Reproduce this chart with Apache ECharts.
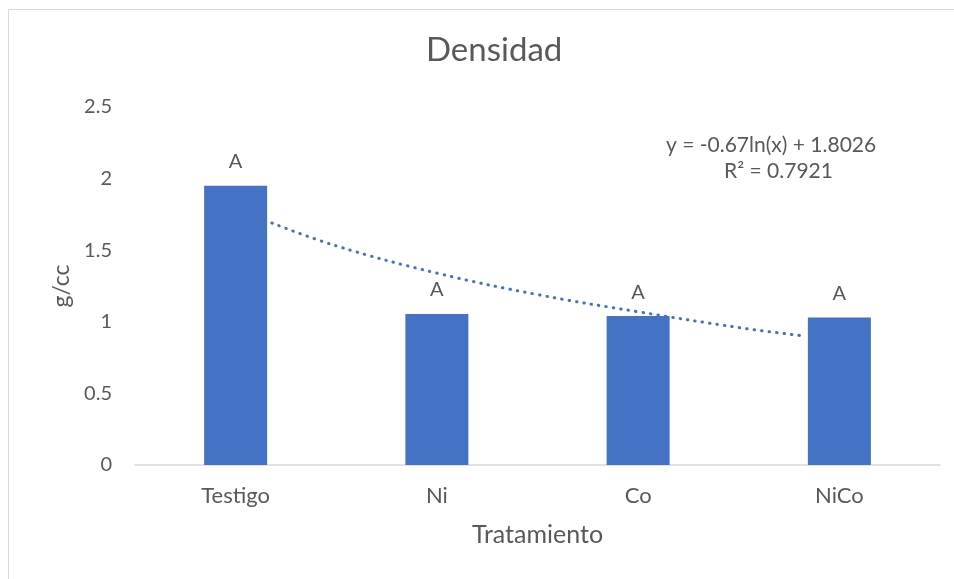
<!DOCTYPE html>
<html>
<head>
<meta charset="utf-8">
<title>Densidad</title>
<script src="https://cdn.jsdelivr.net/npm/echarts@6/dist/echarts.min.js"></script>
<style>
  html, body { margin: 0; padding: 0; background: #fff; }
  #chart { width: 954px; height: 579px; }
</style>
</head>
<body>
<div id="chart"></div>
<script>
// data
const categories = ['Testigo', 'Ni', 'Co', 'NiCo'];
const densidad = [1.95, 1.055, 1.04, 1.03];
const letras = ['A', 'A', 'A', 'A'];
// trendline (log fit): [category position, g/cc]
const trendX = [1.18, 1.5, 2, 2.5, 3, 3.5, 3.83];
const trendY = [1.69, 1.53, 1.34, 1.19, 1.07, 0.96, 0.90];
const yTicks = [0, 0.5, 1, 1.5, 2, 2.5];

const textColor = '#595959';
const barColor = '#4472C4';
const font = 'Lato, "Open Sans", sans-serif';

const chart = echarts.init(document.getElementById('chart'));

chart.setOption({
  backgroundColor: '#fff',
  animation: false,
  textStyle: { fontFamily: font },
  title: {
    text: 'Densidad',
    left: 421,
    top: 29,
    textStyle: { fontSize: 33, fontWeight: 'normal', color: textColor, fontFamily: font },
  },
  graphic: [
    {
      type: 'rect',
      shape: { x: 8.5, y: 9.5, width: 1000, height: 1000 },
      style: { fill: 'none', stroke: '#D9D9D9', lineWidth: 1 },
      silent: true,
    },
    {
      type: 'text',
      left: 666,
      top: 135,
      style: { text: 'y = -0.67ln(x) + 1.8026', fill: textColor, font: '21px ' + font },
    },
    {
      type: 'text',
      left: 724,
      top: 161,
      style: { text: 'R² = 0.7921', fill: textColor, font: '21px ' + font },
    },
  ],
  grid: { left: 135, right: 14, top: 107, bottom: 114 },
  xAxis: [
    {
      type: 'category',
      data: categories,
      name: 'Tratamiento',
      nameLocation: 'middle',
      nameGap: 57,
      nameTextStyle: { fontSize: 25, color: textColor },
      axisLine: { lineStyle: { color: '#D9D9D9', width: 1.5 } },
      axisTick: { show: false },
      axisLabel: { fontSize: 22, color: textColor, margin: 20 },
    },
    {
      type: 'value',
      min: 0.5,
      max: 4.5,
      show: false,
    },
  ],
  yAxis: {
    type: 'value',
    min: 0,
    max: 2.5,
    interval: 0.5,
    name: 'g/cc',
    nameLocation: 'middle',
    nameGap: 61,
    nameTextStyle: { fontSize: 23, color: textColor },
    axisLine: { show: false },
    axisTick: { show: false },
    splitLine: { show: false },
    axisLabel: {
      fontSize: 20,
      color: textColor,
      margin: 23,
      formatter: v => (yTicks.includes(v) ? String(v) : ''),
    },
  },
  series: [
    {
      type: 'bar',
      data: densidad,
      barWidth: 63,
      itemStyle: { color: barColor },
      label: {
        show: true,
        position: 'top',
        distance: 14,
        fontSize: 20,
        color: textColor,
        formatter: p => letras[p.dataIndex],
      },
      z: 2,
    },
    {
      type: 'line',
      xAxisIndex: 1,
      data: trendX.map((x, i) => [x, trendY[i]]),
      smooth: 0.4,
      showSymbol: false,
      lineStyle: { color: barColor, width: 3, type: [0.5, 7], cap: 'round' },
      z: 3,
    },
  ],
});
</script>
</body>
</html>
